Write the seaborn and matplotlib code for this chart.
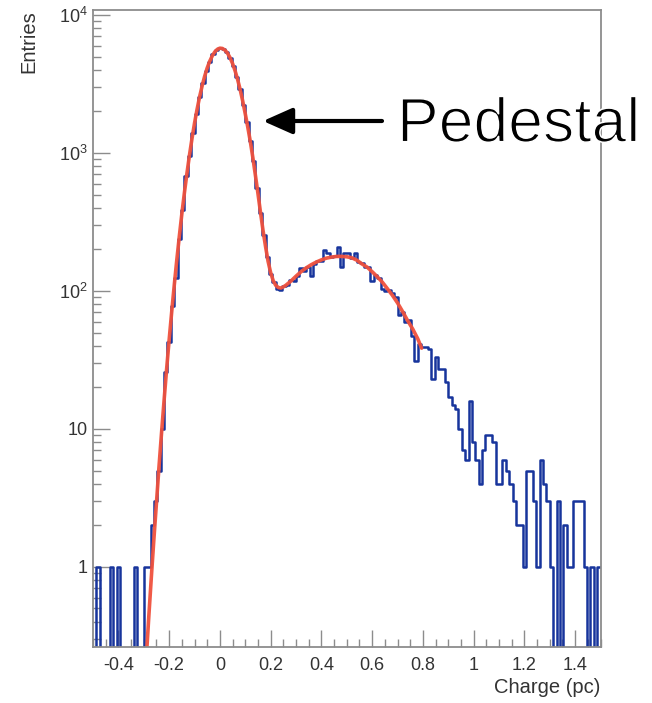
import numpy as np
import pandas as pd
import matplotlib
matplotlib.use("Agg")
import matplotlib.pyplot as plt
import matplotlib.patheffects as pe
from matplotlib.ticker import FixedLocator, FixedFormatter, LogLocator, NullFormatter, MultipleLocator
import seaborn as sns

# ---------------- data ----------------
x_min, x_max, n_bins = -0.5, 1.5, 150
counts = [
    0, 1, 0, 0, 0, 1, 0, 1, 0, 0,
    0, 0, 1, 0, 0, 1, 1, 2, 3, 5,
    10, 26, 43, 78, 125, 240, 385, 680, 950, 1390,
    1910, 2560, 3220, 3960, 4600, 5190, 5560, 5760, 5670, 5400,
    4880, 4290, 3560, 2900, 2210, 1690, 1220, 870, 555, 370,
    255, 176, 132, 117, 104, 102, 108, 110, 121, 119,
    128, 146, 140, 150, 128, 158, 166, 164, 198, 190,
    176, 180, 208, 150, 188, 190, 172, 188, 162, 160,
    150, 148, 118, 130, 125, 104, 100, 102, 96, 90,
    67, 70, 60, 62, 47, 31, 41, 39, 39, 38,
    23, 33, 27, 27, 22, 17, 15, 14, 10, 7,
    6, 16, 8, 6, 4, 7, 9, 9, 8, 4,
    4, 6, 5, 4, 3, 2, 2, 1, 5, 5,
    3, 1, 6, 4, 3, 1, 0, 3, 0, 2,
    1, 1, 3, 3, 3, 1, 0, 1, 0, 1,
]

fit_x = [-0.29, -0.28, -0.27, -0.26, -0.25, -0.24, -0.23, -0.22, -0.21, -0.20,
         -0.19, -0.18, -0.17, -0.16, -0.15, -0.14, -0.13, -0.12, -0.11, -0.10,
         -0.09, -0.08, -0.07, -0.06, -0.05, -0.04, -0.03, -0.02, -0.01, 0.00,
         0.01, 0.02, 0.03, 0.04, 0.05, 0.06, 0.07, 0.08, 0.09, 0.10,
         0.11, 0.12, 0.13, 0.14, 0.15, 0.16, 0.17, 0.18, 0.19, 0.20,
         0.21, 0.22, 0.23, 0.24, 0.25, 0.26, 0.28, 0.30, 0.32, 0.34,
         0.36, 0.38, 0.40, 0.42, 0.44, 0.46, 0.48, 0.50, 0.52, 0.54,
         0.56, 0.58, 0.60, 0.62, 0.64, 0.66, 0.68, 0.70, 0.72, 0.74,
         0.76, 0.78, 0.795]
fit_y = [0.22, 0.44, 0.85, 1.6, 2.9, 5.3, 9.3, 16, 27, 44,
         70, 109, 166, 247, 360, 511, 708, 958, 1268, 1640,
         2065, 2545, 3060, 3595, 4130, 4620, 5055, 5405, 5640, 5750,
         5720, 5565, 5290, 4910, 4450, 3940, 3405, 2880, 2380, 1925,
         1540, 1210, 925, 690, 510, 372, 275, 210, 164, 136,
         119, 110, 106, 105, 107, 110, 118, 128, 138, 147,
         155, 162, 168, 173, 176, 178, 178, 177, 174, 167,
         157, 149, 138, 127, 116, 104, 93, 82, 71, 61,
         53, 45, 38.5]

xtick_vals = [-0.4, -0.2, 0, 0.2, 0.4, 0.6, 0.8, 1.0, 1.2, 1.4]
xtick_labels = ["-0.4", "-0.2", "0", "0.2", "0.4", "0.6", "0.8", "1", "1.2", "1.4"]
ytick_vals = [1, 10, 100, 1000, 10000]
ytick_labels = ["1", "10", "$10^{2}$", "$10^{3}$", "$10^{4}$"]

# ---------------- style ----------------
sns.set_style("white")
plt.rcParams["font.family"] = ["Liberation Sans", "DejaVu Sans"]
plt.rcParams["mathtext.fontset"] = "custom"
plt.rcParams["mathtext.rm"] = "Liberation Sans"
plt.rcParams["mathtext.it"] = "Liberation Sans:italic"
plt.rcParams["mathtext.bf"] = "Liberation Sans:bold"
plt.rcParams["mathtext.default"] = "regular"

blue = "#17349c"
red = "#f0513d"
frame = "#8c8c8c"
txt = "#333333"

fig = plt.figure(figsize=(6.52, 7.03), dpi=100)
ax = fig.add_axes([93 / 652, 1 - 647 / 703, (600.5 - 93) / 652, (647 - 10) / 703])

bin_w = (x_max - x_min) / n_bins
centers = [x_min + (i + 0.5) * bin_w for i in range(n_bins)]
hist_df = pd.DataFrame({"charge": centers, "entries": counts})

sns.histplot(data=hist_df, x="charge", weights="entries", bins=n_bins,
             binrange=(x_min, x_max), element="step", fill=False,
             color=blue, linewidth=1.8, ax=ax)
sns.lineplot(x=fit_x, y=fit_y, color=red, linewidth=2.6, ax=ax,
             estimator=None, sort=False, alpha=0.95)

ax.set_yscale("log")
ax.set_xlim(x_min, x_max)
ax.set_ylim(0.263, 10870)

ax.xaxis.set_major_locator(FixedLocator(xtick_vals))
ax.xaxis.set_major_formatter(FixedFormatter(xtick_labels))
ax.xaxis.set_minor_locator(MultipleLocator(0.05))
ax.yaxis.set_major_locator(FixedLocator(ytick_vals))
ax.yaxis.set_major_formatter(FixedFormatter(ytick_labels))
ax.yaxis.set_minor_locator(LogLocator(base=10, subs=np.arange(2, 10) * 1.0, numticks=30))
ax.yaxis.set_minor_formatter(NullFormatter())

ax.tick_params(which="both", direction="in", top=False, right=False,
               bottom=True, left=True, color=frame, width=1.0, labelcolor=txt)
ax.tick_params(which="major", length=12, labelsize=13)
ax.tick_params(which="minor", length=6)
ax.tick_params(axis="x", which="major", pad=7)
ax.tick_params(axis="y", which="major", pad=4)

for s in ax.spines.values():
    s.set_visible(True)
    s.set_color(frame)
    s.set_linewidth(1.3)

ax.set_xlabel("Charge (pc)", loc="right", fontsize=14.5, color=txt, labelpad=3)
ax.set_ylabel("Entries", loc="top", fontsize=14.5, color=txt)
ax.yaxis.set_label_coords((38 - 93) / 507.5, 1.0)

# annotation
fig_h = 703
ax.annotate("", xy=(263, fig_h - 121), xytext=(382, fig_h - 121),
            xycoords="figure pixels", textcoords="figure pixels",
            arrowprops=dict(arrowstyle="-|>,head_length=0.9,head_width=0.4",
                            mutation_scale=20, lw=3, color="black",
                            shrinkA=0, shrinkB=0))
fig.text(397, fig_h - 141.7, "Pedestal", transform=None, fontsize=45,
         ha="left", va="baseline", color="black",
         path_effects=[pe.Stroke(linewidth=1.1, foreground="white")])

fig.savefig("out.png", dpi=100)
